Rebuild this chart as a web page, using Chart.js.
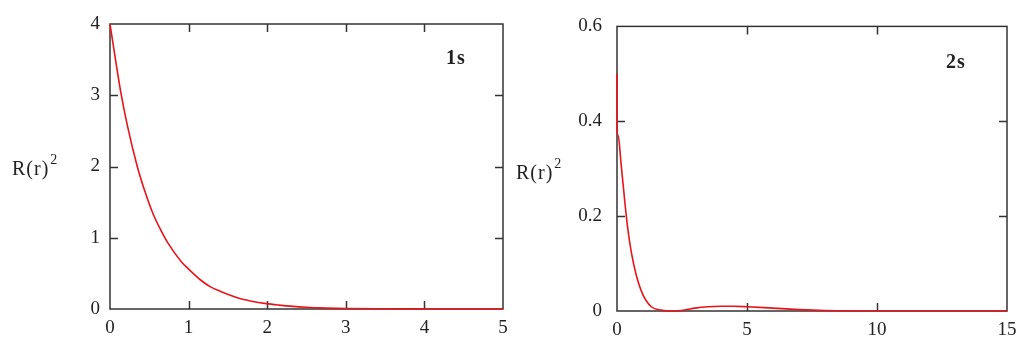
<!DOCTYPE html>
<html lang="en">
<head>
    <meta charset="UTF-8">
    <title>Radial probability 1s / 2s</title>
    <script src="https://cdn.jsdelivr.net/npm/chart.js@4.4.0/dist/chart.umd.min.js"></script>
    <style>
        body { margin: 0; background: #fff; }
        .wrap { position: relative; width: 1033px; height: 346px; overflow: hidden; }
        .box { position: absolute; top: 0; height: 346px; }
        .ylab, .tag {
            position: absolute;
            font-family: "Liberation Serif", "DejaVu Serif", serif;
            color: #222;
            white-space: nowrap;
            line-height: 1;
        }
        .ylab { font-size: 20px; letter-spacing: 1px; }
        .ylab sup { font-size: 14px; position: relative; top: -5px; vertical-align: top; margin-left: 1px; }
        .tag { font-size: 20px; font-weight: bold; letter-spacing: 1px; }
    </style>
</head>
<body>
<div class="wrap">
    <div class="box" style="left:0;width:516px"><canvas id="c1"></canvas></div>
    <div class="box" style="left:516px;width:517px"><canvas id="c2"></canvas></div>
    <div class="ylab" style="left:12px;top:158px">R(r)<sup>2</sup></div>
    <div class="ylab" style="left:516px;top:162px">R(r)<sup>2</sup></div>
    <div class="tag" style="left:446px;top:47px">1s</div>
    <div class="tag" style="left:946px;top:51px">2s</div>
</div>

<script>
    // 1s curve
    const r1s = [0, 0.07, 0.136, 0.22, 0.347, 0.45, 0.55, 0.65, 0.74, 0.91, 1.0, 1.16, 1.28, 1.40, 1.63, 1.8, 1.99, 2.15, 2.33, 2.5, 2.67, 3, 3.5, 4, 5];
    const y1s = [4, 3.5, 3.05, 2.58, 2.0, 1.63, 1.33, 1.1, 0.92, 0.66, 0.56, 0.4, 0.31, 0.25, 0.155, 0.11, 0.075, 0.055, 0.037, 0.025, 0.016, 0.008, 0.003, 0.001, 0];

    // 2s curve
    const r2s = [0, 0.01, 0.04, 0.165, 0.29, 0.40, 0.55, 0.74, 1.0, 1.32, 1.7, 2.2, 2.6, 3, 3.5, 4, 4.5, 5, 6, 7, 8, 10, 15];
    const y2s = [0.5, 0.375, 0.37, 0.306, 0.236, 0.18, 0.124, 0.076, 0.034, 0.009, 0.002, 0, 0.002, 0.006, 0.009, 0.01, 0.01, 0.009, 0.006, 0.003, 0.001, 0, 0];

    const ticks1x = [0, 1, 2, 3, 4, 5];
    const ticks1y = [0, 1, 2, 3, 4];
    const ticks2x = [0, 5, 10, 15];
    const ticks2y = [0, 0.2, 0.4, 0.6];

    const FONT = { family: '"Liberation Serif", "DejaVu Serif", serif', size: 19 };
    const AXIS = '#333';

    // frame round the plot plus short inward ticks on all four sides,
    // drawn under the curve so the red line sits on top like in the original
    const frameTicks = {
        id: 'frameTicks',
        beforeDatasetsDraw(chart, args, opts) {
            const { ctx, chartArea: a, scales } = chart;
            const len = 8;
            ctx.save();
            ctx.strokeStyle = AXIS;
            ctx.lineWidth = 1.5;
            ctx.strokeRect(a.left, a.top, a.right - a.left, a.bottom - a.top);
            ctx.beginPath();
            opts.xt.forEach(v => {
                const x = Math.round(scales.x.getPixelForValue(v)) + 0.5;
                ctx.moveTo(x, a.bottom); ctx.lineTo(x, a.bottom - len);
                ctx.moveTo(x, a.top); ctx.lineTo(x, a.top + len);
            });
            opts.yt.forEach(v => {
                const y = Math.round(scales.y.getPixelForValue(v)) + 0.5;
                ctx.moveTo(a.left, y); ctx.lineTo(a.left + len, y);
                ctx.moveTo(a.right, y); ctx.lineTo(a.right - len, y);
            });
            ctx.stroke();
            ctx.restore();
        }
    };

    function makeChart(id, xs, ys, xmax, xstep, ymax, ystep, xt, yt, pad, yw, xh, ypad) {
        return new Chart(document.getElementById(id), {
            type: 'line',
            data: {
                datasets: [{
                    data: xs.map((x, i) => ({ x: x, y: ys[i] })),
                    borderColor: '#e8141a',
                    borderWidth: 1.6,
                    pointRadius: 0,
                    clip: false,
                    cubicInterpolationMode: 'monotone'
                }]
            },
            options: {
                responsive: true,
                maintainAspectRatio: false,
                animation: false,
                layout: { padding: pad },
                plugins: {
                    legend: { display: false },
                    tooltip: { enabled: false },
                    frameTicks: { xt: xt.slice(1, -1), yt: yt.slice(1, -1) }
                },
                scales: {
                    x: {
                        type: 'linear', min: 0, max: xmax,
                        grid: { display: false, drawTicks: false },
                        border: { display: false },
                        ticks: { stepSize: xstep, color: '#222', font: FONT, padding: 8 },
                        afterFit: s => { s.height = xh; }
                    },
                    y: {
                        min: 0, max: ymax,
                        grid: { display: false, drawTicks: false },
                        border: { display: false },
                        ticks: {
                            stepSize: ystep, color: '#222', font: FONT, padding: ypad,
                            callback: v => +v.toFixed(1)
                        },
                        afterFit: s => { s.width = yw; }
                    }
                }
            },
            plugins: [frameTicks]
        });
    }

    makeChart('c1', r1s, y1s, 5, 1, 4, 1, ticks1x, ticks1y,
        { left: 0, right: 13, top: 24, bottom: 0 }, 110, 37, 10);
    makeChart('c2', r2s, y2s, 15, 5, 0.6, 0.2, ticks2x, ticks2y,
        { left: 0, right: 26, top: 26, bottom: 0 }, 101, 35, 15);
</script>
</body>
</html>
